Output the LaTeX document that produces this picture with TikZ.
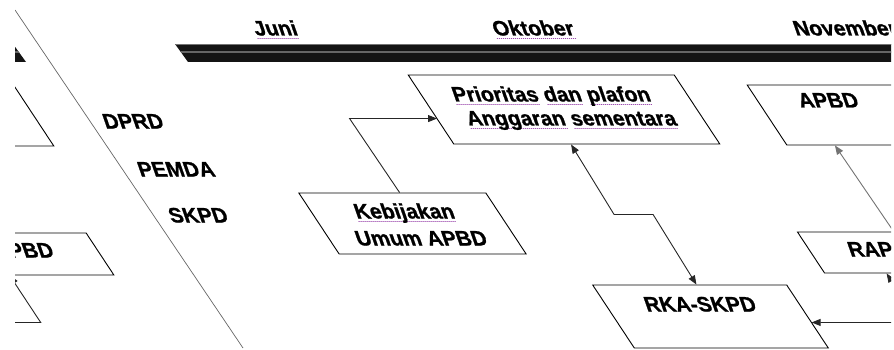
\documentclass[tikz,border=0pt]{standalone}
\usepackage{fontspec}
\setmainfont{Liberation Sans}[BoldFeatures={FakeBold=1}]
\usetikzlibrary{calc,arrows.meta}
\newcommand\sqw[1]{\setbox0\hbox{#1}\rlap{\raisebox{-3.5pt}{\color{red!45!blue!70}\hbox to \wd0{\leaders\hbox to 2pt{\hss\vrule width 1.1pt height 0.8pt\hss}\hfil}}}\box0\relax}
\tikzset{
  pbox/.style={draw=black, line width=0.9pt, inner sep=0pt, xslant=-0.66},
  lbl/.style={font=\bfseries\fontsize{21}{24}\selectfont, inner sep=0pt, text height=15pt, text depth=0pt, xslant=-0.35},
  con/.style={line width=0.9pt, draw=black!85},
  tip/.style={-{Triangle[length=9pt,width=7pt]}},
  tiptwo/.style={{Triangle[length=9pt,width=7pt]}-{Triangle[length=9pt,width=7pt]}},
  tipback/.style={{Triangle[length=9pt,width=7pt]}-}
}
\begin{document}
\begin{tikzpicture}[x=1pt,y=-1pt]
\useasboundingbox (0,0) rectangle (894,350);
\begin{scope}
\clip (15,0) rectangle (891,350);
% timeline bars
\foreach \a/\b in {-300/13, 175/905}{
  \begin{scope}
  \clip (\a,44) -- (\b,44) -- (\b+13,62) -- (\a+13,62) -- cycle;
  \fill[black!92] (-400,44) rectangle (1000,62);
  \fill[black!55] (-400,44) rectangle (1000,45.3);
  \fill[black!60] (-400,51) rectangle (1000,53);
  \end{scope}
}
% divider
\draw[black!60, line width=0.7pt] (15,10) -- (243,348);
% months
\node[lbl] (juni) at (275,28) {\sqw{Juni}};
\node[lbl] (okt) at (533,28) {\sqw{Oktober}};
\node[lbl] (nov) at (845,28) {November};
% rows
\node[lbl] (dprd) at (133,121) {DPRD};
\node[lbl] (pemda) at (176,169) {PEMDA};
\node[lbl] (skpd) at (198,215) {SKPD};
% boxes
\node[pbox, minimum width=266pt, minimum height=69pt] (prio) at (564,109.5) {};
\node[lbl] (priot1) at (551,94) {\sqw{Prioritas} \sqw{dan} \sqw{plafon}};
\node[lbl] (priot2) at (571,118) {\sqw{Anggaran} \sqw{sementara}};
\node[pbox, minimum width=187pt, minimum height=61pt] (keb) at (412.5,223.5) {};
\node[lbl] (kebt1) at (404,211) {\sqw{Kebijakan}};
\node[lbl] (kebt2) at (421,238) {Umum APBD};
\node[pbox, minimum width=194pt, minimum height=63pt] (rka) at (710.5,316.5) {};
\node[lbl] (rkat) at (700,304) {RKA-SKPD};
\node[pbox, minimum width=180pt, minimum height=60pt] (apbd) at (857,115) {};
\node[lbl] (apbdt) at (828,100) {APBD};
\node[pbox, minimum width=180pt, minimum height=41pt] (rap) at (901,252.5) {};
\node[lbl, anchor=west] (rapt) at (848,249) {RAPBD};
\node[pbox, minimum width=180pt, minimum height=60pt] (lapbd) at (-56,116) {};
\node[pbox, minimum width=180pt, minimum height=42pt] (lrap) at (10,254) {};
\node[lbl, anchor=east] (lrapt) at (53,250) {RAPBD};
% connectors
\coordinate (kt) at ($(keb.north west)!0.54!(keb.north east)$);
\coordinate (pl) at ($(prio.north west)!0.64!(prio.south west)$);
\draw[con, tip] (kt) -- ++(-50,-74) coordinate (c1) -- (c1 -| pl);
\coordinate (pb) at ($(prio.south west)!0.44!(prio.south east)$);
\coordinate (rt) at ($(rka.north west)!0.536!(rka.north east)$);
\draw[con, tiptwo] (pb) -- ++(43,70) -- ++(39,0) -- (rt);
\coordinate (ab) at ($(apbd.south west)!0.267!(apbd.south east)$);
\coordinate (rpt) at ($(rap.north west)!0.536!(rap.north east)$);
\draw[con, draw=black!55, tip] (rpt) -- (ab);
\coordinate (rr) at ($(rka.north east)!0.587!(rka.south east)$);
\coordinate (rpb) at ($(rap.south west)!0.344!(rap.south east)$);
\draw[con, tiptwo] (rpb) -- ++(32,49) coordinate (c2) -- (c2 -| rr);
\coordinate (lrb) at ($(lrap.south west)!0.42!(lrap.south east)$);
\draw[con, tipback] (lrb) -- ++(31,47) -- ++(-100,0);
\end{scope}
\end{tikzpicture}
\end{document}
